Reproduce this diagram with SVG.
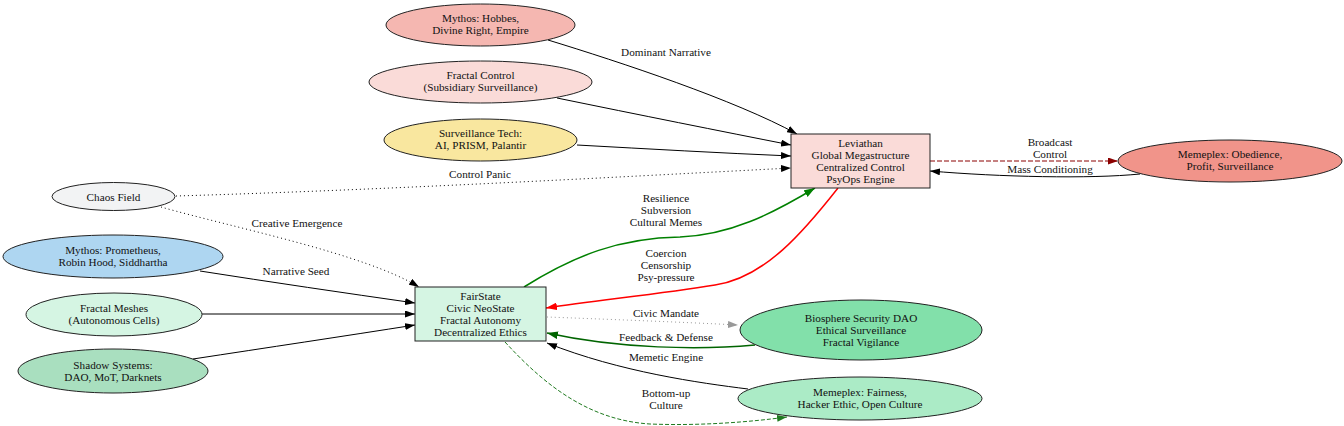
<svg xmlns="http://www.w3.org/2000/svg" width="1344" height="426" viewBox="0 0 1344 426">
<style>
text{font-family:"Liberation Serif","Times New Roman",serif;font-size:11.2px;fill:#111;text-anchor:middle}
.n{stroke:#222;stroke-width:1}
.e{fill:none;stroke:#000;stroke-width:1}
.dot{stroke-dasharray:1,3}
</style>
<defs>
<marker id="ab" viewBox="0 0 10 7" refX="10" refY="3.5" markerWidth="10" markerHeight="7" markerUnits="userSpaceOnUse" orient="auto"><path d="M0,0 L10,3.5 L0,7 z" fill="#000"/></marker>
<marker id="ag" viewBox="0 0 10 7" refX="10" refY="3.5" markerWidth="11" markerHeight="8" markerUnits="userSpaceOnUse" orient="auto"><path d="M0,0 L10,3.5 L0,7 z" fill="#008000"/></marker>
<marker id="ar" viewBox="0 0 10 7" refX="10" refY="3.5" markerWidth="11" markerHeight="8" markerUnits="userSpaceOnUse" orient="auto"><path d="M0,0 L10,3.5 L0,7 z" fill="#ff0000"/></marker>
<marker id="adg" viewBox="0 0 10 7" refX="10" refY="3.5" markerWidth="11" markerHeight="8" markerUnits="userSpaceOnUse" orient="auto"><path d="M0,0 L10,3.5 L0,7 z" fill="#006400"/></marker>
<marker id="afg" viewBox="0 0 10 7" refX="10" refY="3.5" markerWidth="10" markerHeight="7" markerUnits="userSpaceOnUse" orient="auto"><path d="M0,0 L10,3.5 L0,7 z" fill="#1f7a1f"/></marker>
<marker id="adr" viewBox="0 0 10 7" refX="10" refY="3.5" markerWidth="10" markerHeight="7" markerUnits="userSpaceOnUse" orient="auto"><path d="M0,0 L10,3.5 L0,7 z" fill="#8b0000"/></marker>
<marker id="agr" viewBox="0 0 10 7" refX="10" refY="3.5" markerWidth="10" markerHeight="7" markerUnits="userSpaceOnUse" orient="auto"><path d="M0,0 L10,3.5 L0,7 z" fill="#999"/></marker>
</defs>

<g id="connectors">
<path class="e" d="M548,40 C620,62 735,100 797,134" marker-end="url(#ab)"/>
<text x="666" y="56">Dominant Narrative</text>
<path class="e" d="M557,98 C640,115 720,131 791,145" marker-end="url(#ab)"/>
<path class="e" d="M577,145 C650,149 720,153 791,156" marker-end="url(#ab)"/>
<path class="e dot" d="M176,196 C380,190 600,178 791,168" marker-end="url(#ab)"/>
<text x="480" y="178">Control Panic</text>
<path class="e dot" d="M161,207 C235,228 365,254 419,287" marker-end="url(#ab)"/>
<text x="297" y="227">Creative Emergence</text>
<path class="e" d="M200,271 C270,282 345,293 415,303" marker-end="url(#ab)"/>
<text x="296" y="275">Narrative Seed</text>
<path class="e" d="M202,314 L415,314" marker-end="url(#ab)"/>
<path class="e" d="M193,359 C265,348 345,336 415,325" marker-end="url(#ab)"/>
<path class="e" d="M524,287 C575,255 620,238 680,237 C730,235 772,214 815,188" style="stroke:#008000;stroke-width:1.5" marker-end="url(#ag)"/>
<text x="666" y="202">Resilience</text>
<text x="666" y="214">Subversion</text>
<text x="666" y="226">Cultural Memes</text>
<path class="e" d="M838,188 C805,230 765,278 715,285 C660,294 600,300 546,308" style="stroke:#ff0000;stroke-width:1.5" marker-end="url(#ar)"/>
<text x="666" y="257">Coercion</text>
<text x="666" y="269">Censorship</text>
<text x="666" y="281">Psy-pressure</text>
<path class="e dot" d="M547,317 C600,319 680,322 738,325" style="stroke:#999" marker-end="url(#agr)"/>
<text x="666" y="317">Civic Mandate</text>
<path class="e" d="M755,345 C700,350 620,349 547,333" style="stroke:#006400;stroke-width:1.5" marker-end="url(#adg)"/>
<text x="666" y="341">Feedback &amp; Defense</text>
<path class="e" d="M748,389 C700,383 620,372 547,343" marker-end="url(#ab)"/>
<text x="666" y="361">Memetic Engine</text>
<path class="e" d="M505,342 C540,380 585,420 650,424 C700,426 750,422 787,417" style="stroke:#1f7a1f;stroke-dasharray:4,2" marker-end="url(#afg)"/>
<text x="666" y="397">Bottom-up</text>
<text x="666" y="409">Culture</text>
<path class="e" d="M930,161 L1118,161" style="stroke:#8b0000;stroke-dasharray:5,2" marker-end="url(#adr)"/>
<text x="1050" y="146">Broadcast</text>
<text x="1050" y="158">Control</text>
<path class="e" d="M1140,174 C1090,179 1000,177 930,171" marker-end="url(#ab)"/>
<text x="1050" y="173">Mass Conditioning</text>
</g>

<g id="mythos_hobbes"><ellipse class="n" cx="480.5" cy="25" rx="94.5" ry="21" fill="#f5b7b1"/><text x="480.5" y="22">Mythos: Hobbes,</text><text x="480.5" y="34">Divine Right, Empire</text></g>
<g id="fractal_control"><ellipse class="n" cx="480.5" cy="82" rx="111.5" ry="21" fill="#fadbd8"/><text x="480.5" y="79">Fractal Control</text><text x="480.5" y="91">(Subsidiary Surveillance)</text></g>
<g id="surveillance_tech"><ellipse class="n" cx="480.5" cy="140" rx="96.5" ry="21" fill="#f9e79f"/><text x="480.5" y="137">Surveillance Tech:</text><text x="480.5" y="149">AI, PRISM, Palantir</text></g>
<g id="leviathan"><rect class="n" x="791" y="134" width="139" height="54" fill="#fadbd8"/><text x="860.5" y="147">Leviathan</text><text x="860.5" y="159">Global Megastructure</text><text x="860.5" y="171">Centralized Control</text><text x="860.5" y="183">PsyOps Engine</text></g>
<g id="memeplex_obedience"><ellipse class="n" cx="1230" cy="161" rx="112" ry="21" fill="#f1948a"/><text x="1230" y="158">Memeplex: Obedience,</text><text x="1230" y="170">Profit, Surveillance</text></g>
<g id="chaos_field"><ellipse class="n" cx="113.5" cy="196.5" rx="61.5" ry="14" fill="#f2f3f4"/><text x="113.5" y="200.5">Chaos Field</text></g>
<g id="mythos_prometheus"><ellipse class="n" cx="113" cy="256.5" rx="110" ry="21.5" fill="#aed6f1"/><text x="113" y="253.5">Mythos: Prometheus,</text><text x="113" y="265.5">Robin Hood, Siddhartha</text></g>
<g id="fractal_meshes"><ellipse class="n" cx="114" cy="314.5" rx="88" ry="21.5" fill="#d5f5e3"/><text x="114" y="312">Fractal Meshes</text><text x="114" y="324">(Autonomous Cells)</text></g>
<g id="shadow_systems"><ellipse class="n" cx="113" cy="371" rx="95" ry="22" fill="#a9dfbf"/><text x="113" y="369">Shadow Systems:</text><text x="113" y="381">DAO, MoT, Darknets</text></g>
<g id="fairstate"><rect class="n" x="415" y="287" width="131" height="54" fill="#d5f5e3"/><text x="480.5" y="300">FairState</text><text x="480.5" y="312">Civic NeoState</text><text x="480.5" y="324">Fractal Autonomy</text><text x="480.5" y="336">Decentralized Ethics</text></g>
<g id="biosphere_dao"><ellipse class="n" cx="861" cy="330" rx="121" ry="30" fill="#82e0aa"/><text x="861" y="322">Biosphere Security DAO</text><text x="861" y="334">Ethical Surveillance</text><text x="861" y="346">Fractal Vigilance</text></g>
<g id="memeplex_fairness"><ellipse class="n" cx="860" cy="398.5" rx="122" ry="21.5" fill="#abebc6"/><text x="860" y="396">Memeplex: Fairness,</text><text x="860" y="408">Hacker Ethic, Open Culture</text></g>
</svg>
